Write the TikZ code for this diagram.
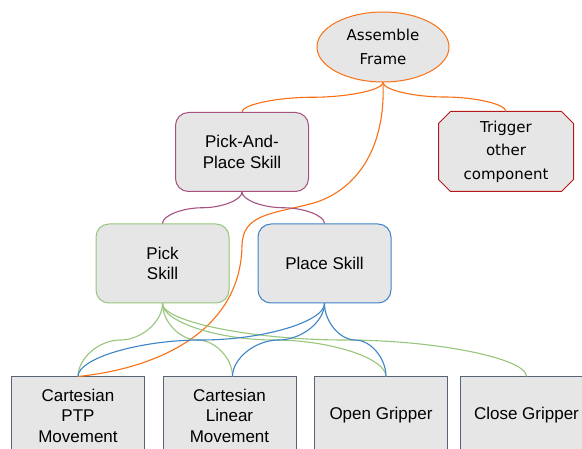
\documentclass[tikz,border=0pt]{standalone}
\usepackage{fontspec}
\setmainfont{Liberation Sans}
\newfontfamily\dejavu{DejaVu Sans}
\usetikzlibrary{shapes.geometric,calc,backgrounds}

\definecolor{boxfill}{RGB}{230,230,230}
\definecolor{orangeC}{RGB}{250,112,20}
\definecolor{purpleC}{RGB}{166,82,128}
\definecolor{greenC}{RGB}{152,198,124}
\definecolor{blueC}{RGB}{62,132,200}
\definecolor{redC}{RGB}{180,25,25}
\definecolor{slateC}{RGB}{88,100,118}

\tikzset{
  base/.style={fill=boxfill, line width=1pt, inner sep=0pt, align=center,
    font=\fontsize{17}{20.5}\selectfont},
  roundbox/.style={base, rounded corners=13pt, minimum width=133pt, minimum height=79pt},
  leafbox/.style={base, draw=slateC, minimum width=133pt, minimum height=77pt},
  ovalnode/.style={base, ellipse, draw=orangeC, minimum width=132pt, minimum height=70pt,
    font=\dejavu\fontsize{15}{23.5}\selectfont},
  cutbox/.style={base, fill=none, minimum width=134pt, minimum height=79pt,
    font=\dejavu\fontsize{15}{23.5}\selectfont},
  link/.style={line width=1.1pt},
  scurve/.style={link, to path={let \p1=(\tikztostart), \p2=(\tikztotarget) in
    .. controls (\x1,{0.75*\y1+0.25*\y2}) and ({0.75*\x1+0.25*\x2},{0.5*\y1+0.5*\y2})
    .. ({0.5*\x1+0.5*\x2},{0.5*\y1+0.5*\y2})
    .. controls ({0.25*\x1+0.75*\x2},{0.5*\y1+0.5*\y2}) and (\x2,{0.25*\y1+0.75*\y2})
    .. (\tikztotarget)}}
}

\begin{document}
\begin{tikzpicture}[x=1pt, y=-1pt]
  \clip (0,0) rectangle (582,449);

  % task tree
  \node[ovalnode] (af) at (383,47) {Assemble\\Frame};
  \node[roundbox, draw=purpleC] (pnp) at (242,152) {Pick-And-\\Place Skill};
  \node[cutbox] (trig) at (506,151.5) {Trigger\\other\\component};
  \node[roundbox, draw=greenC] (pick) at (162.5,263.5) {Pick\\Skill};
  \node[roundbox, draw=blueC] (place) at (324.5,263.5) {Place Skill};

  % primitive actions
  \node[leafbox] (ptp) at (78,415.5) {Cartesian\\PTP\\Movement};
  \node[leafbox] (lin) at (229.5,415.5) {Cartesian\\Linear\\Movement};
  \node[leafbox] (open) at (381,415.5) {Open Gripper};
  \node[leafbox] (close) at (526.5,415.5) {Close Gripper};

  % page and the octagonal frame behind the trigger text
  \begin{scope}[on background layer]
    \fill[white] (0,0) rectangle (582,449);
    \filldraw[draw=redC, fill=boxfill, line width=1pt, line join=round]
      ($(trig.north west)+(12,0)$) -- ($(trig.north east)+(-12,0)$)
      -- ($(trig.north east)+(0,12)$) -- ($(trig.south east)+(0,-12)$)
      -- ($(trig.south east)+(-12,0)$) -- ($(trig.south west)+(12,0)$)
      -- ($(trig.south west)+(0,-12)$) -- ($(trig.north west)+(0,12)$) -- cycle;
  \end{scope}

  % connectors
  \draw[scurve, orangeC] (af.south) to (pnp.north);
  \draw[scurve, orangeC] (af.south) to (trig.north);
  \draw[link, orangeC] (af.south)
    .. controls (386,156) and (350,194) .. (310,204)
    .. controls (270,214) and (243,215) .. (242,245)
    .. controls (241,330) and (160,368) .. (ptp.north);

  \draw[scurve, purpleC] (pnp.south) to (pick.north);
  \draw[scurve, purpleC] (pnp.south) to (place.north);

  \draw[scurve, greenC] (pick.south) to (ptp.north);
  \draw[scurve, greenC] (pick.south) to ([xshift=3pt]lin.north);
  \draw[scurve, greenC] (pick.south) to ([xshift=5pt]open.north);
  \draw[scurve, greenC] (pick.south) to (close.north);

  \draw[scurve, blueC] (place.south) to (ptp.north);
  \draw[scurve, blueC] (place.south) to ([xshift=3pt]lin.north);
  \draw[scurve, blueC] (place.south) to ([xshift=5pt]open.north);
\end{tikzpicture}
\end{document}
